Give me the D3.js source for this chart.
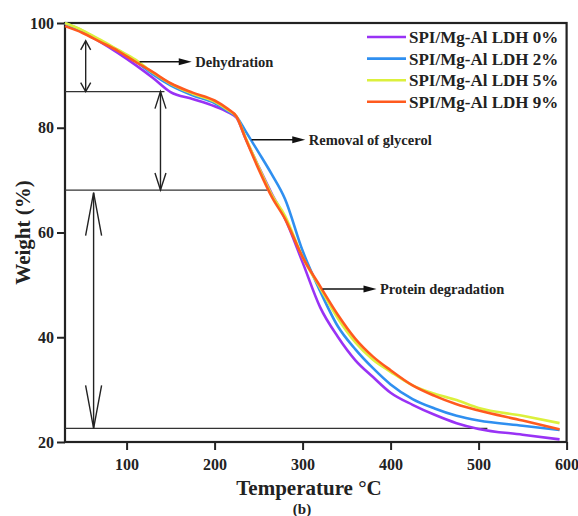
<!DOCTYPE html>
<html>
<head>
<meta charset="utf-8">
<script src="https://cdn.jsdelivr.net/npm/d3@7"></script>
<style>
  html, body { margin: 0; padding: 0; background: #fff; }
  svg { display: block; font-family: "Liberation Serif", "Times New Roman", serif; font-weight: bold; }
</style>
</head>
<body>
<svg id="chart" width="578" height="516"></svg>
<script>
// Temperature sampling points (°C)
const temps = [30, 50, 70, 90, 110, 130, 150, 175, 200, 215, 225, 235, 250, 265, 280, 300, 320, 340, 360, 380, 400, 425, 450, 475, 500, 550, 592];

// Residual weight (%) of each film
const ldh0 = [99.9, 98.3, 96.4, 94.3, 92.0, 89.5, 86.8, 85.5, 84.1, 83.0, 81.9, 78.0, 72.6, 67.4, 62.7, 54.3, 45.7, 40.1, 35.6, 32.4, 29.4, 27.1, 25.2, 23.6, 22.5, 21.4, 20.5];
const ldh2 = [100, 98.5, 96.6, 94.8, 92.7, 90.2, 88.1, 86.2, 84.7, 83.2, 82.1, 79.4, 75.3, 71.1, 66.4, 56.5, 48.8, 42.1, 37.7, 34.1, 31.0, 28.2, 26.4, 25.0, 24.1, 23.1, 22.3];
const ldh5 = [100, 98.6, 96.8, 94.9, 93.0, 90.5, 88.4, 86.5, 85.0, 83.4, 82.1, 78.2, 72.5, 67.2, 63.2, 55.3, 49.4, 43.6, 39.0, 35.7, 33.4, 30.8, 29.2, 28.0, 26.5, 25.0, 23.6];
const ldh9 = [99.4, 98.1, 96.4, 94.7, 92.6, 90.6, 88.5, 86.7, 85.2, 83.6, 82.1, 78.0, 72.1, 66.8, 62.6, 55.3, 49.7, 44.3, 39.7, 36.3, 33.7, 30.8, 28.8, 27.2, 26.0, 24.1, 22.4];

const seriesNames = ["SPI/Mg-Al LDH 0%", "SPI/Mg-Al LDH 2%", "SPI/Mg-Al LDH 5%", "SPI/Mg-Al LDH 9%"];
const seriesColors = ["#9932f5", "#2f8ff0", "#dcf03c", "#ff5a1e"];

const xTicks = [100, 200, 300, 400, 500, 600];
const yTicks = [20, 40, 60, 80, 100];

// Weight-loss stage markers: level lines and spans (°C, %)
const stageLines = [
  { t0: 30, t1: 143, w: 86.9 },
  { t0: 30, t1: 260, w: 68.1 },
  { t0: 30, t1: 510, w: 22.6 }
];
const stageSpans = [
  { t: 53.5, wTop: 96.6, wBot: 86.9, head: 9, half: 5 },
  { t: 138.5, wTop: 86.9, wBot: 68.1, head: 17, half: 5.5 },
  { t: 62.5, wTop: 67.6, wBot: 22.6, head: 43, half: 8 }
];
const stageLabels = [
  { text: "Dehydration", t0: 114.8, t1: 174, w: 92.6 },
  { text: "Removal of glycerol", t0: 242, t1: 303, w: 77.7 },
  { text: "Protein degradation", t0: 322.7, t1: 384, w: 49.2 }
];

const svg = d3.select("#chart");
const x = d3.scaleLinear().domain([30, 600]).range([65, 566.6]);
const y = d3.scaleLinear().domain([20, 100]).range([442, 23]);

// Axes
const xAxis = svg.append("g")
  .attr("transform", `translate(0,${y(20)})`)
  .call(d3.axisBottom(x).tickValues(xTicks).tickSize(8).tickSizeOuter(0).tickPadding(9));
const yAxis = svg.append("g")
  .attr("transform", `translate(${x(30)},0)`)
  .call(d3.axisLeft(y).tickValues(yTicks).tickSize(8).tickSizeOuter(0).tickPadding(3));
[xAxis, yAxis].forEach(g => {
  g.select(".domain").remove();
  g.selectAll(".tick line").attr("stroke", "#222").attr("stroke-width", 2);
  g.selectAll(".tick text")
    .attr("fill", "#222")
    .style("font-family", '"Liberation Serif", "Times New Roman", serif')
    .style("font-weight", "bold")
    .style("font-size", "16px");
});

// Plot frame
svg.append("rect")
  .attr("x", x(30)).attr("y", y(100))
  .attr("width", x(600) - x(30)).attr("height", y(20) - y(100))
  .attr("fill", "none").attr("stroke", "#222").attr("stroke-width", 2.2);

// Stage level lines
svg.append("g").selectAll("line").data(stageLines).join("line")
  .attr("x1", d => x(d.t0)).attr("x2", d => x(d.t1))
  .attr("y1", d => y(d.w)).attr("y2", d => y(d.w))
  .attr("stroke", "#333").attr("stroke-width", 1.3);

// Double-headed span arrows with open heads
const spanG = svg.append("g").attr("stroke", "#222").attr("fill", "none").attr("stroke-width", 1.4);
stageSpans.forEach(s => {
  const cx = x(s.t), yt = y(s.wTop), yb = y(s.wBot);
  spanG.append("line").attr("x1", cx).attr("x2", cx).attr("y1", yt).attr("y2", yb);
  spanG.append("path").attr("d", `M${cx - s.half},${yt + s.head}L${cx},${yt}L${cx + s.half},${yt + s.head}`);
  spanG.append("path").attr("d", `M${cx - s.half},${yb - s.head}L${cx},${yb}L${cx + s.half},${yb - s.head}`);
});

// Weight curves
const line = d3.line().x((d, i) => x(temps[i])).y(d => y(d)).curve(d3.curveMonotoneX);
const allSeries = [ldh0, ldh2, ldh5, ldh9];
svg.append("g").selectAll("path").data(allSeries).join("path")
  .attr("d", d => line(d))
  .attr("fill", "none")
  .attr("stroke", (d, i) => seriesColors[i])
  .attr("stroke-width", 2.6)
  .attr("stroke-linejoin", "round");

// Stage labels with pointer arrows
const labG = svg.append("g");
stageLabels.forEach(l => {
  const x0 = x(l.t0), x1 = x(l.t1), yy = y(l.w);
  labG.append("line").attr("x1", x0).attr("x2", x1 - 10).attr("y1", yy).attr("y2", yy)
    .attr("stroke", "#111").attr("stroke-width", 1.5);
  labG.append("path").attr("d", `M${x1 - 13},${yy - 3.5}L${x1},${yy}L${x1 - 13},${yy + 3.5}Z`).attr("fill", "#111");
  labG.append("text").attr("x", x1 + 3.5).attr("y", yy).attr("dy", "0.35em")
    .attr("font-size", 14.5).attr("fill", "#222").text(l.text);
});

// Legend
const legend = svg.append("g");
seriesNames.forEach((name, i) => {
  const yy = 37 + i * 21.6;
  legend.append("line").attr("x1", 367).attr("x2", 406).attr("y1", yy).attr("y2", yy)
    .attr("stroke", seriesColors[i]).attr("stroke-width", 2.6);
  legend.append("text").attr("x", 409).attr("y", yy).attr("dy", "0.36em")
    .attr("font-size", 17).attr("fill", "#222").text(name);
});

// Axis titles
svg.append("text")
  .attr("transform", `translate(30,${(y(20) + y(100)) / 2}) rotate(-90)`)
  .attr("text-anchor", "middle").attr("font-size", 21).attr("fill", "#222")
  .text("Weight (%)");
svg.append("text")
  .attr("x", 309).attr("y", 495)
  .attr("text-anchor", "middle").attr("font-size", 21).attr("fill", "#222")
  .text("Temperature °C");
svg.append("text")
  .attr("x", 302).attr("y", 514)
  .attr("text-anchor", "middle").attr("font-size", 15).attr("fill", "#222")
  .text("(b)");
</script>
</body>
</html>
